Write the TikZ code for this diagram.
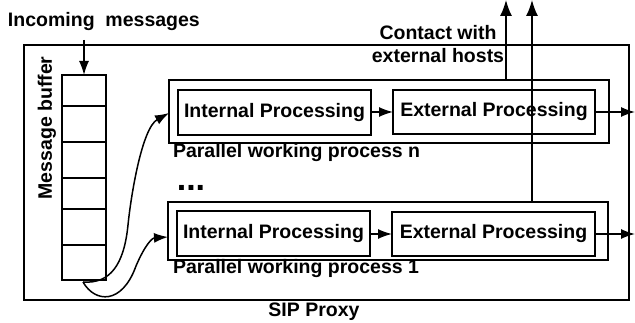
\documentclass[tikz,border=0pt]{standalone}
\usepackage{fontspec}
\setmainfont{Liberation Sans}
\usetikzlibrary{arrows.meta}
\begin{document}
\begin{tikzpicture}[x=1pt,y=-1pt,
  line width=1.5pt,
  font=\fontsize{19.5}{23}\selectfont\bfseries,
  box/.style={draw, rectangle, inner sep=0pt, outer sep=0pt},
  cell/.style={box, minimum width=44pt},
  lbl/.style={inner sep=0pt, outer sep=0pt},
  arr/.style={-{Latex[length=14pt,width=10pt]}},
  uparr/.style={-{Latex[length=16pt,width=12pt]}}
]
\useasboundingbox (0,0) rectangle (635,323);

% SIP proxy frame
\node[box, minimum width=605pt, minimum height=255pt] (proxy) at (326.5,172.5) {};
\node[lbl] (proxylbl) at (314,312) {SIP Proxy};

% message buffer (six slots)
\node[cell, minimum height=31pt] (c1) at (84,90.5) {};
\node[cell, minimum height=36pt] (c2) at (84,124) {};
\node[cell, minimum height=36pt] (c3) at (84,160) {};
\node[cell, minimum height=31pt] (c4) at (84,193.5) {};
\node[cell, minimum height=36pt] (c5) at (84,227) {};
\node[cell, minimum height=35pt] (c6) at (84,262.5) {};
\node[lbl, rotate=90] (buflbl) at (47,128) {Message buffer};

\node[lbl, anchor=west] (inlbl) at (8,22) {Incoming~~messages};
\coordinate (inA) at (84,40);
\draw[arr] (inA) -- (c1.north);

% working process n
\node[box, minimum width=440pt, minimum height=63pt] (procN) at (389,111.5) {};
\node[box, minimum width=193pt, minimum height=45pt] (intN) at (274.5,112.5) {Internal Processing};
\node[box, minimum width=202pt, minimum height=44pt] (extN) at (494,112) {External Processing};
\node[lbl, anchor=west] (lblN) at (173,153) {Parallel working process n};

% ellipsis between the processes
\node[lbl] (dots) at (191,188) {\fontsize{34}{34}\selectfont ...};

% working process 1
\node[box, minimum width=440pt, minimum height=58pt] (proc1) at (388,231) {};
\node[box, minimum width=193pt, minimum height=45pt] (int1) at (273.5,233.5) {Internal Processing};
\node[box, minimum width=203pt, minimum height=44pt] (ext1) at (493.5,234) {External Processing};
\node[lbl, anchor=west] (lbl1) at (173,269) {Parallel working process 1};

% internal -> external
\draw[arr] (intN.east |- extN.east) -- (extN.west);
\draw[arr] (int1.east |- ext1.east) -- (ext1.west);

% outputs to the right
\coordinate (outN) at (635,112);
\coordinate (out1) at (635,234);
\draw[arr] (extN.east) -- (outN);
\draw[arr] (ext1.east) -- (out1);

% contact with external hosts
\coordinate (upN) at (506,0);
\coordinate (up1) at (532,0);
\draw[uparr] (procN.north -| upN) -- (upN);
\draw[uparr] (proc1.north -| up1) -- (up1);
\node[lbl, align=center] (contact) at (438,44) {Contact with\\external hosts};

% dispatch from the buffer to the processes
\coordinate (src) at (83,282);
\draw[arr] (src) .. controls (110,284) and (124,265) .. (128,225)
  .. controls (131,195) and (142,128) .. (procN.west |- 0,113);
\draw[arr] (src) .. controls (95,303) and (122,305) .. (136,266)
  .. controls (145,245) and (152,238) .. (proc1.west |- 0,237);
\end{tikzpicture}
\end{document}
